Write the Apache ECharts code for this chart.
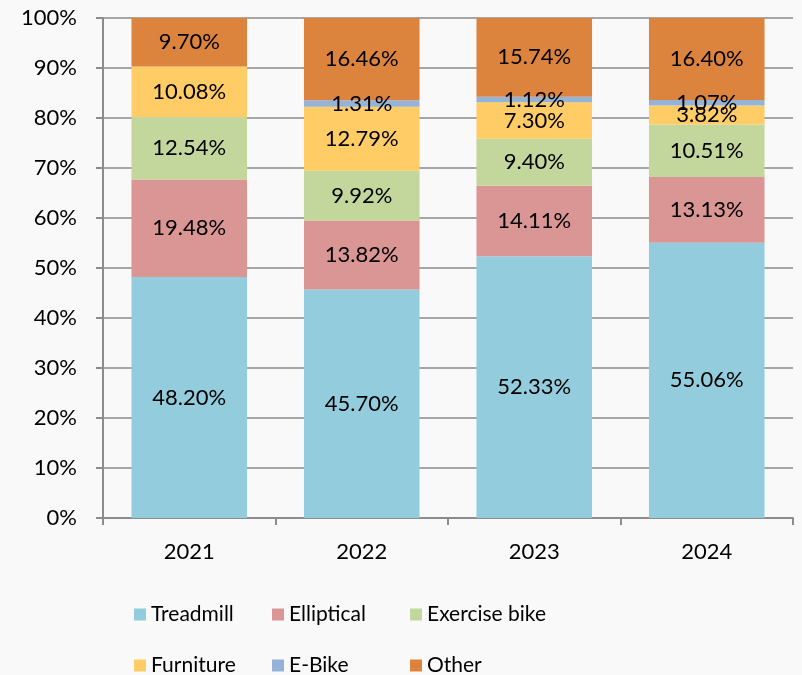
<!DOCTYPE html>
<html lang="en">
<head>
<meta charset="UTF-8">
<title>chart</title>
<script src="https://cdn.jsdelivr.net/npm/echarts@6/dist/echarts.min.js"></script>
<style>
html,body{margin:0;padding:0;background:#f9f9f9}
#chartBox{width:802px;height:675px}
</style>
</head>
<body>
<div id="chartBox"></div>
<script>
// data
var years = ['2021', '2022', '2023', '2024'];
var treadmill = [48.20, 45.70, 52.33, 55.06];
var elliptical = [19.48, 13.82, 14.11, 13.13];
var exerciseBike = [12.54, 9.92, 9.40, 10.51];
var furniture = [10.08, 12.79, 7.30, 3.82];
var eBike = [0, 1.31, 1.12, 1.07];
var other = [9.70, 16.46, 15.74, 16.40];
var yTicks = [0, 10, 20, 30, 40, 50, 60, 70, 80, 90, 100];

var FONT = 'Lato, "Open Sans", sans-serif';
var seriesDefs = [
    {name: 'Treadmill', data: treadmill, color: '#93cddd'},
    {name: 'Elliptical', data: elliptical, color: '#d99694'},
    {name: 'Exercise bike', data: exerciseBike, color: '#c3d69b'},
    {name: 'Furniture', data: furniture, color: '#ffcc66'},
    {name: 'E-Bike', data: eBike, color: '#95b3d7'},
    {name: 'Other', data: other, color: '#dc843e'}
];

var chartObj = echarts.init(document.getElementById('chartBox'));
chartObj.setOption({
    backgroundColor: '#f9f9f9',
    animation: false,
    grid: {left: 103, top: 18, right: 9, bottom: 157},
    xAxis: {
        type: 'category',
        data: years,
        axisLine: {lineStyle: {color: '#8c8c8c', width: 2}},
        axisTick: {show: true, length: 7, lineStyle: {color: '#8c8c8c', width: 2}},
        axisLabel: {fontFamily: FONT, fontSize: 22, color: '#000', margin: 23}
    },
    yAxis: {
        type: 'value',
        min: yTicks[0],
        max: yTicks[yTicks.length - 1],
        interval: 10,
        axisLine: {show: true, lineStyle: {color: '#8c8c8c', width: 2}},
        axisTick: {show: true, length: 7, lineStyle: {color: '#8c8c8c', width: 2}},
        splitLine: {lineStyle: {color: '#a6a6a6', width: 2}},
        axisLabel: {fontFamily: FONT, fontSize: 22, color: '#000', margin: 26, formatter: '{value}%'}
    },
    legend: {
        left: 129,
        top: 584,
        width: 440,
        orient: 'horizontal',
        itemWidth: 12,
        itemHeight: 12,
        itemGap: 0,
        icon: 'rect',
        selectedMode: false,
        textStyle: {fontFamily: FONT, fontSize: 21, color: '#000', width: 121, lineHeight: 51, overflow: 'none'},
        data: seriesDefs.map(function(s){ return s.name; })
    },
    series: seriesDefs.map(function(s){
        return {
            type: 'bar',
            name: s.name,
            stack: 'total',
            barCategoryGap: '33%',
            itemStyle: {color: s.color},
            label: {
                show: true,
                position: 'inside',
                fontFamily: FONT,
                fontSize: 22,
                color: '#000',
                formatter: function(p){ return p.value ? p.value.toFixed(2) + '%' : ''; }
            },
            data: s.data
        };
    })
});
</script>
</body>
</html>
